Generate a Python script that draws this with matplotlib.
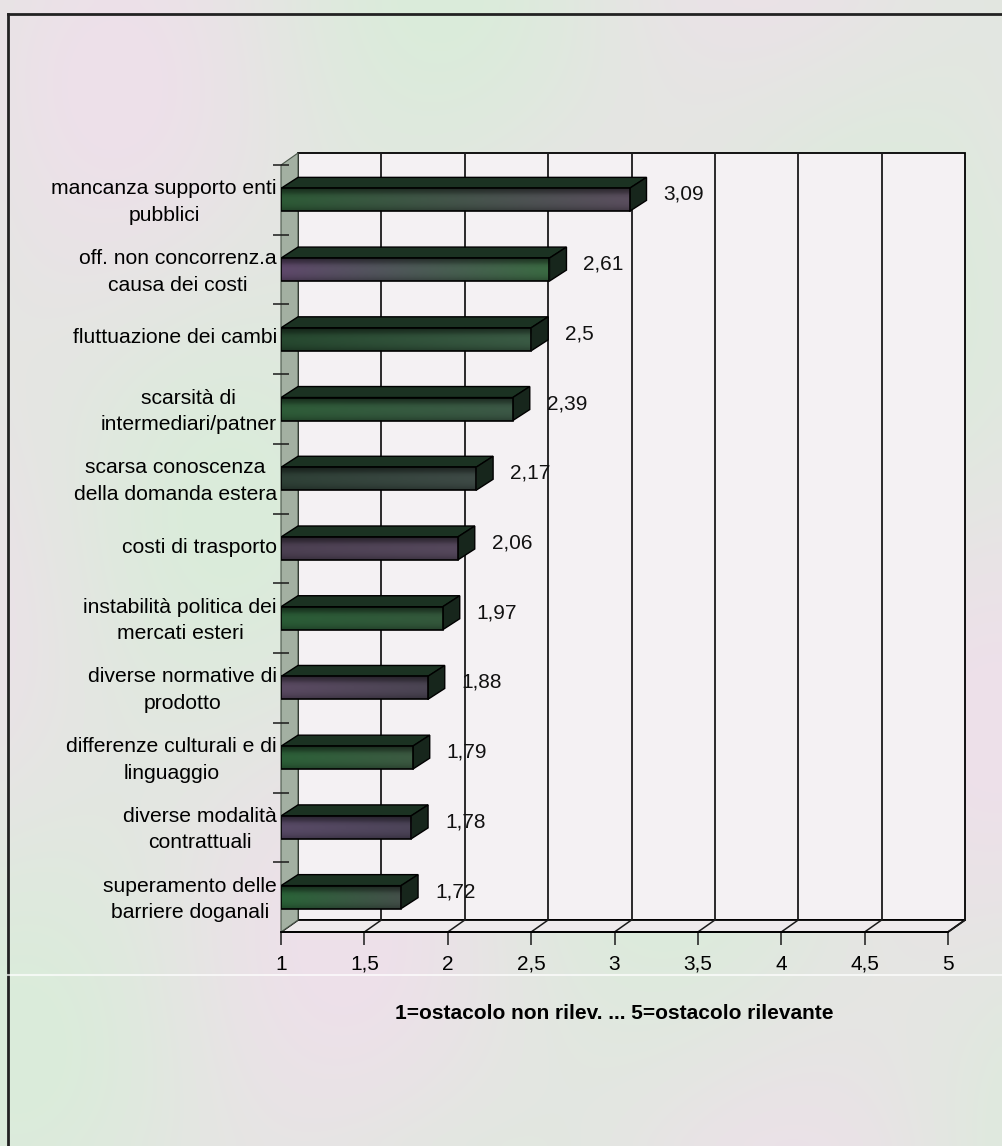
import numpy as np
import matplotlib
matplotlib.use("Agg")
import matplotlib.pyplot as plt
from matplotlib.patches import Polygon, Rectangle
from matplotlib.lines import Line2D
from matplotlib.colors import to_rgb

plt.rcParams['font.family'] = ['Liberation Sans', 'DejaVu Sans']

# obstacles, listed top to bottom
categories = [
    "mancanza supporto enti\npubblici",
    "off. non concorrenz.a\ncausa dei costi",
    "fluttuazione dei cambi",
    "scarsità di\nintermediari/patner",
    "scarsa conoscenza\ndella domanda estera",
    "costi di trasporto",
    "instabilità politica dei\nmercati esteri",
    "diverse normative di\nprodotto",
    "differenze culturali e di\nlinguaggio",
    "diverse modalità\ncontrattuali",
    "superamento delle\nbarriere doganali",
]
scores = [3.09, 2.61, 2.5, 2.39, 2.17, 2.06, 1.97, 1.88, 1.79, 1.78, 1.72]
x_ticks = [1, 1.5, 2, 2.5, 3, 3.5, 4, 4.5, 5]
x_title = "1=ostacolo non rilev. ... 5=ostacolo rilevante"

# front-face colour ramps (left -> right) for each bar
bar_ramps = [
    ("#2d5a36", "#5a4e5e"),
    ("#5e486a", "#3a6a42"),
    ("#26482f", "#3a5a44"),
    ("#2e5c38", "#3c5846"),
    ("#2e4036", "#3e4a46"),
    ("#4c4052", "#55485c"),
    ("#2a5c36", "#34583c"),
    ("#5a4a62", "#4a4452"),
    ("#2c6038", "#3c5a42"),
    ("#584a66", "#4c4458"),
    ("#2a6438", "#44504a"),
]

fig = plt.figure(figsize=(10.02, 11.46), dpi=100)
W, H = 1002, 1146

# paper background
bg = fig.add_axes([0, 0, 1, 1])
bg.set_axis_off()
yy, xx = np.mgrid[0:115, 0:100]
mix = 0.5 + 0.28 * np.sin(xx / 9.0 + yy / 23.0) + 0.22 * np.cos(xx / 15.0 - yy / 11.0)
mix = np.clip(mix, 0, 1)[..., None]
pink = np.array([238, 224, 234]) / 255
green = np.array([218, 236, 218]) / 255
bg.imshow(pink * mix + green * (1 - mix), extent=[0, 1, 0, 1], aspect='auto',
          interpolation='bicubic')
bg.set_xlim(0, 1)
bg.set_ylim(0, 1)

# front plane of the chart: value 1..5, categories 0..n
x0_px, x1_px = 281, 948
top_px, floor_px = 165, 932
ax = fig.add_axes([x0_px / W, (H - floor_px) / H, (x1_px - x0_px) / W, (floor_px - top_px) / H])
ax.patch.set_alpha(0)
n = len(categories)
ax.set_xlim(1, 5)
ax.set_ylim(0, n)

px_x = 4 / (x1_px - x0_px)
px_y = n / (floor_px - top_px)
DX, DY = 17 * px_x, 12 * px_y      # depth of the walls
BDX, BDY = 17 * px_x, 11 * px_y    # depth of each bar
bar_h = 23 * px_y

# back wall
ax.add_patch(Rectangle((1 + DX, DY), 4, n, facecolor='#f4f1f3', edgecolor='black',
                       lw=1.3, zorder=0.5, clip_on=False))
# left side wall
ax.add_patch(Polygon([(1, 0), (1 + DX, DY), (1 + DX, n + DY), (1, n)], closed=True,
                     facecolor='#a3b0a2', edgecolor='#4c584c', lw=0.8, zorder=0.65,
                     clip_on=False))
# floor
ax.add_patch(Polygon([(1, 0), (1 + DX, DY), (5 + DX, DY), (5, 0)], closed=True,
                     facecolor='#eeeaec', edgecolor='black', lw=1.3, zorder=0.6,
                     clip_on=False))

# gridlines on the back wall and across the floor
for v in x_ticks[1:-1]:
    ax.add_line(Line2D([v + DX, v + DX], [DY, n + DY], color='#1a1a1a', lw=1.3,
                       zorder=0.7, clip_on=False))
for v in x_ticks[1:]:
    ax.add_line(Line2D([v, v + DX], [0, DY], color='#1a1a1a', lw=1.1,
                       zorder=0.7, clip_on=False))

# bars
for i, (v, ramp) in enumerate(zip(scores, bar_ramps)):
    yc = n - i - 0.5
    yb, yt = yc - bar_h / 2, yc + bar_h / 2
    c_left, c_right = np.array(to_rgb(ramp[0])), np.array(to_rgb(ramp[1]))
    t = np.linspace(0, 1, 120)[None, :, None]
    shade = np.array([0.55, 0.7, 0.92, 1.0, 1.0, 0.97, 0.9, 0.78])[:, None, None]
    img = np.clip((c_left * (1 - t) + c_right * t) * shade, 0, 1)
    front = Rectangle((1, yb), v - 1, bar_h, facecolor='none', edgecolor='black',
                      lw=1.2, zorder=3.2)
    ax.add_patch(front)
    im = ax.imshow(img, extent=[1, v, yb, yt], aspect='auto', interpolation='bilinear',
                   zorder=3.1, origin='upper')
    im.set_clip_path(front)
    top = Polygon([(1, yt), (1 + BDX, yt + BDY), (v + BDX, yt + BDY), (v, yt)], closed=True,
                  facecolor='#1b3222', edgecolor='black', lw=1.0, zorder=3)
    side = Polygon([(v, yb), (v + BDX, yb + BDY), (v + BDX, yt + BDY), (v, yt)], closed=True,
                   facecolor='#17261c', edgecolor='black', lw=1.0, zorder=3)
    ax.add_patch(top)
    ax.add_patch(side)
    label = ('%g' % v).replace('.', ',')
    ax.text(v + BDX + 17 * px_x, yc + BDY / 2, label, ha='left', va='center',
            fontsize=15, color='#111111', zorder=4)

ax.set_xlim(1, 5)
ax.set_ylim(0, n)

# axes: only the front floor line is a real spine
for side_name in ('top', 'right', 'left'):
    ax.spines[side_name].set_visible(False)
ax.spines['bottom'].set_linewidth(1.3)
ax.set_xticks(x_ticks)
ax.set_xticklabels([('%g' % v).replace('.', ',') for v in x_ticks], fontsize=15,
                   va='baseline')
ax.tick_params(axis='x', direction='out', length=9, width=1.1, pad=18, color='#1a1a1a')

# category labels at band centres, boundary ticks as minor ticks
ax.set_yticks([n - i - 0.45 for i in range(n)])
ax.set_yticklabels(categories, fontsize=15.2, linespacing=1.5)
for lbl in ax.get_yticklabels():
    lbl.set_multialignment('center')
ax.tick_params(axis='y', which='major', length=0, pad=3)
ax.set_yticks(range(1, n + 1), minor=True)
ax.tick_params(axis='y', which='minor', direction='inout', length=12, width=1.1,
               color='#1a1a1a')

ax.set_xlabel(x_title, fontsize=15, fontweight='bold', labelpad=22)

# page frame and the light scan streak
fig.add_artist(Line2D([8 / W, 8 / W], [0, 1 - 14 / H], transform=fig.transFigure,
                      color='#222222', lw=2))
fig.add_artist(Line2D([8 / W, 1], [1 - 14 / H, 1 - 14 / H], transform=fig.transFigure,
                      color='#222222', lw=2))
fig.add_artist(Line2D([8 / W, 1], [1 - 975 / H, 1 - 975 / H], transform=fig.transFigure,
                      color='white', lw=1.5, alpha=0.7))

fig.savefig("out.png", dpi=100)
